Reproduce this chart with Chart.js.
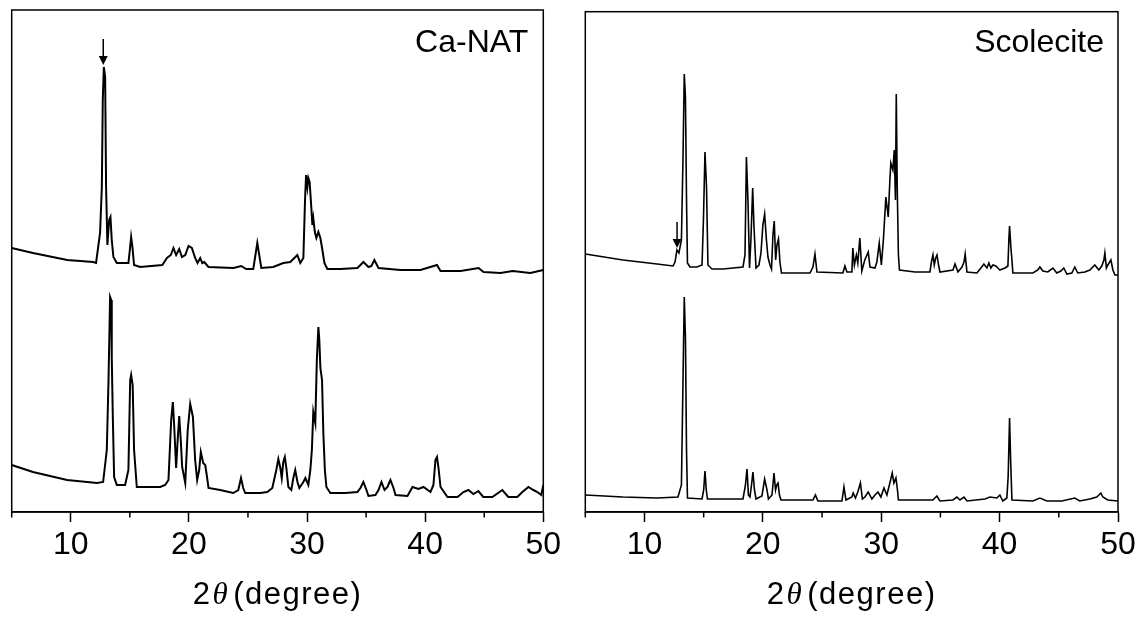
<!DOCTYPE html>
<html>
<head>
<meta charset="utf-8">
<script src="https://cdn.jsdelivr.net/npm/chart.js@4.4.0/dist/chart.umd.min.js"></script>
<style>
  html, body { margin: 0; padding: 0; background: #fff; }
  #wrap { position: relative; width: 1140px; height: 622px; }
  .panel { position: absolute; top: 0; width: 570px; height: 622px; }
</style>
</head>
<body>
<div id="wrap">
  <div class="panel" style="left:0"><canvas id="leftChart"></canvas></div>
  <div class="panel" style="left:570px"><canvas id="rightChart"></canvas></div>
</div>
<script>
// Tick values and text
const majorTicks = [10, 20, 30, 40, 50];
const minorTicks = [5, 15, 25, 35, 45];
const xTitleParts = ['2', 'θ', '(degree)'];   // theta is set in italic
const panelLabels = ['Ca-NAT', 'Scolecite'];

// Arrows marking the extra reflection (2theta, start intensity, tip intensity)
const arrowCaNat = [12.75, 473, 447];
const arrowScolecite = [12.75, 290, 264];

// Ca-NAT, upper pattern (2theta, intensity a.u.)
const caNatUpper = [
  [5.0,264],[6.8,259],[9.7,252],[11.9,250],[12.14,249],[12.48,279],[12.63,325],[12.71,412],
  [12.8,445],[12.91,435],[12.99,325],[13.1,267],[13.25,292],[13.36,295],[13.47,272],[13.61,255],
  [13.9,249],[14.88,249],[15.0,262],[15.11,275],[15.22,265],[15.36,247],[15.87,245],[17.75,247],
  [18.14,254],[18.47,257],[18.69,264],[18.92,257],[19.18,263],[19.41,255],[19.69,257],[19.97,266],
  [20.25,264],[20.53,254],[20.73,249],[20.96,254],[21.13,249],[21.3,250],[21.66,245],[23.77,244],
  [24.43,246],[24.85,243],[25.45,243],[25.79,269],[26.13,244],[27.14,245],[27.99,249],[28.58,250],
  [29.18,257],[29.43,249],[29.69,254],[29.83,312],[29.92,337],[30.03,325],[30.11,334],[30.22,330],
  [30.36,305],[30.45,287],[30.53,294],[30.66,280],[30.79,274],[30.96,280],[31.13,274],[31.3,262],
  [31.47,249],[31.72,243],[32.82,243],[34.26,244],[34.52,247],[34.77,250],[35.2,245],[35.45,246],
  [35.7,252],[36.05,244],[37.9,242],[39.6,242],[41.0,247],[41.3,241],[43.0,241],[44.52,244],
  [44.94,240],[46.38,239],[47.4,241],[48.9,239],[50.0,242]
];

// Ca-NAT, lower pattern
const caNatLower = [
  [5.0,47],[6.8,40],[9.69,32],[12.23,29],[12.74,30],[13.05,62],[13.19,129],[13.33,215],
  [13.42,212],[13.47,155],[13.56,95],[13.67,35],[13.9,27],[14.6,27],[14.88,42],[15.03,132],
  [15.11,137],[15.24,127],[15.36,62],[15.59,25],[17.57,25],[17.99,27],[18.27,32],[18.5,92],
  [18.64,110],[18.75,87],[18.92,44],[19.05,72],[19.18,96],[19.31,72],[19.43,45],[19.69,29],
  [19.9,82],[20.11,108],[20.34,95],[20.53,52],[20.7,32],[20.87,42],[21.01,60],[21.21,49],
  [21.38,47],[21.51,37],[21.66,24],[22.65,22],[23.75,19],[24.18,22],[24.41,34],[24.6,24],
  [24.77,19],[26.04,19],[26.64,20],[27.06,24],[27.4,42],[27.57,53],[27.74,44],[27.86,34],
  [27.99,50],[28.12,55],[28.25,44],[28.42,25],[28.67,22],[28.84,34],[29.0,42],[29.19,30],
  [29.35,24],[29.69,30],[29.86,34],[30.11,27],[30.28,42],[30.41,62],[30.53,100],[30.7,89],
  [30.83,152],[30.96,185],[31.04,172],[31.13,144],[31.27,132],[31.38,79],[31.51,42],[31.64,25],
  [31.97,19],[33.25,19],[34.26,20],[34.52,24],[34.77,30],[35.03,22],[35.2,16],[35.79,17],
  [36.05,22],[36.3,30],[36.56,22],[36.81,25],[37.06,32],[37.32,24],[37.49,17],[38.5,16],
  [38.93,25],[39.43,23],[39.86,25],[40.45,20],[40.7,27],[40.87,52],[41.0,55],[41.13,44],
  [41.3,25],[41.89,15],[42.74,15],[43.24,20],[43.66,22],[44.08,18],[44.5,21],[44.92,15],
  [45.69,15],[46.53,22],[47.04,15],[47.8,15],[48.23,20],[48.74,25],[49.16,22],[49.5,20],
  [49.83,17],[50.0,27]
];

// Scolecite, upper pattern
const scolUpper = [
  [5.0,258],[8.18,252],[11.06,248],[12.41,246],[12.58,250],[12.74,262],[12.91,259],[13.12,272],
  [13.25,352],[13.36,438],[13.46,415],[13.55,312],[13.63,249],[13.84,245],[14.43,245],[14.86,247],
  [14.98,292],[15.11,360],[15.24,325],[15.36,247],[15.7,243],[16.63,243],[18.32,245],[18.49,257],
  [18.61,355],[18.74,312],[18.87,244],[18.99,272],[19.14,324],[19.25,285],[19.42,244],[19.67,247],
  [19.84,259],[20.0,287],[20.15,298],[20.3,272],[20.43,255],[20.6,247],[20.73,243],[20.85,277],
  [20.96,291],[21.08,252],[21.19,267],[21.32,273],[21.44,250],[21.57,239],[23.98,239],[24.23,245],
  [24.4,258],[24.57,240],[26.76,239],[26.93,246],[27.1,240],[27.52,240],[27.6,264],[27.73,247],
  [27.9,257],[28.02,249],[28.19,274],[28.36,241],[28.61,252],[28.9,260],[29.05,245],[29.47,244],
  [29.63,250],[29.83,269],[30.01,247],[30.18,272],[30.39,315],[30.59,295],[30.73,332],[30.81,349],
  [30.98,342],[31.1,362],[31.2,312],[31.27,418],[31.35,325],[31.45,257],[31.54,242],[32.85,240],
  [34.11,240],[34.24,250],[34.37,257],[34.48,247],[34.6,254],[34.71,257],[34.84,247],[34.96,240],
  [36.06,242],[36.23,248],[36.48,240],[36.82,245],[36.99,250],[37.09,258],[37.24,240],[38.08,239],
  [38.42,244],[38.67,248],[38.93,244],[39.09,249],[39.26,244],[39.43,247],[39.68,246],[40.02,242],
  [40.45,244],[40.7,246],[40.78,272],[40.84,286],[40.95,265],[41.04,252],[41.12,239],[42.81,239],
  [43.23,242],[43.4,245],[43.65,241],[44.07,240],[44.5,244],[44.83,239],[45.17,241],[45.42,244],
  [45.68,238],[46.1,239],[46.35,245],[46.6,239],[47.2,240],[47.62,242],[48.04,247],[48.38,242],
  [48.63,246],[48.81,252],[48.89,259],[49.02,244],[49.14,247],[49.4,252],[49.57,242],[49.74,237],
  [50.0,237]
];

// Scolecite, lower pattern
const scolLower = [
  [5.0,17],[8.18,15],[11.06,14],[12.83,15],[13.12,27],[13.25,129],[13.36,215],[13.46,175],
  [13.55,62],[13.63,14],[14.86,13],[15.0,22],[15.11,41],[15.22,22],[15.32,13],[18.32,13],
  [18.53,27],[18.66,43],[18.78,17],[18.91,15],[19.04,27],[19.16,40],[19.29,22],[19.42,13],
  [19.92,16],[20.15,33],[20.35,22],[20.47,13],[20.77,17],[20.94,39],[21.07,22],[21.17,27],
  [21.28,29],[21.4,17],[21.53,12],[24.23,12],[24.44,17],[24.65,11],[26.68,11],[26.85,25],
  [27.02,12],[27.52,15],[27.63,19],[27.82,14],[28.02,20],[28.24,29],[28.41,13],[28.62,15],
  [28.9,20],[29.21,13],[29.47,17],[29.72,20],[29.97,15],[30.23,24],[30.48,17],[30.73,29],
  [30.93,39],[31.07,29],[31.24,34],[31.37,22],[31.45,12],[34.36,12],[34.7,16],[34.96,11],
  [36.06,12],[36.39,15],[36.65,12],[36.99,15],[37.24,11],[38.76,13],[39.18,15],[39.77,14],
  [40.02,17],[40.27,11],[40.61,14],[40.72,35],[40.84,94],[40.93,52],[41.04,12],[42.81,11],
  [43.4,14],[43.99,11],[45.25,11],[46.35,14],[46.77,11],[47.62,13],[48.21,15],[48.55,19],
  [48.72,15],[49.14,12],[50.0,11]
];

const FONT = '"Liberation Sans", Arial, Helvetica, sans-serif';
const SERIF = '"Liberation Serif", "Times New Roman", serif';

// frame around the plot area, short minor ticks, arrow, sample label and axis title
const framePlugin = {
  id: 'frame',
  afterDraw(chart, args, opts) {
    const { ctx, chartArea: a, scales: { x, y } } = chart;
    ctx.save();
    ctx.strokeStyle = '#000';
    ctx.fillStyle = '#000';
    ctx.lineWidth = 1.5;
    ctx.strokeRect(a.left, a.top, a.right - a.left, a.bottom - a.top);

    minorTicks.forEach(v => {
      const px = x.getPixelForValue(v);
      ctx.beginPath();
      ctx.moveTo(px, a.bottom);
      ctx.lineTo(px, a.bottom + 5.5);
      ctx.stroke();
    });

    const ax = x.getPixelForValue(opts.arrow[0]);
    const y0 = y.getPixelForValue(opts.arrow[1]);
    const y1 = y.getPixelForValue(opts.arrow[2]);
    ctx.beginPath();
    ctx.moveTo(ax, y0);
    ctx.lineTo(ax, y1 - 7);
    ctx.stroke();
    ctx.beginPath();
    ctx.moveTo(ax - 4.5, y1 - 9);
    ctx.lineTo(ax + 4.5, y1 - 9);
    ctx.lineTo(ax, y1);
    ctx.closePath();
    ctx.fill();

    ctx.font = '32px ' + FONT;
    ctx.textAlign = 'right';
    ctx.textBaseline = 'alphabetic';
    ctx.fillText(opts.label, a.right - opts.labelDx, opts.labelY);

    // x-axis title: "2" + italic theta + "(degree)"
    const fonts = ['31px ' + FONT, 'italic 31px ' + SERIF, '31px ' + FONT];
    const gaps = [1, 4, 0];
    ctx.textAlign = 'left';
    if ('letterSpacing' in ctx) ctx.letterSpacing = '1.5px';
    let total = 0;
    const widths = xTitleParts.map((t, i) => {
      ctx.font = fonts[i];
      const w = ctx.measureText(t).width;
      total += w + gaps[i];
      return w;
    });
    let tx = (a.left + a.right) / 2 - total / 2;
    xTitleParts.forEach((t, i) => {
      ctx.font = fonts[i];
      ctx.fillText(t, tx, 604);
      tx += widths[i] + gaps[i];
    });
    ctx.restore();
  }
};

function makeChart(canvasId, upper, lower, cfg) {
  const toXY = arr => arr.map(p => ({ x: p[0], y: p[1] }));
  return new Chart(document.getElementById(canvasId), {
    type: 'line',
    data: {
      datasets: [
        { data: toXY(upper), borderColor: '#000', borderWidth: cfg.lineWidth, pointRadius: 0, tension: 0, fill: false },
        { data: toXY(lower), borderColor: '#000', borderWidth: cfg.lineWidth, pointRadius: 0, tension: 0, fill: false }
      ]
    },
    options: {
      responsive: true,
      maintainAspectRatio: false,
      animation: false,
      devicePixelRatio: 1,
      layout: { padding: cfg.padding },
      plugins: {
        legend: { display: false },
        tooltip: { enabled: false },
        frame: { arrow: cfg.arrow, label: cfg.label, labelDx: cfg.labelDx, labelY: cfg.labelY }
      },
      scales: {
        x: {
          type: 'linear',
          min: 5,
          max: 50,
          afterBuildTicks: scale => {
            scale.ticks = minorTicks.concat(majorTicks).sort((a, b) => a - b).map(v => ({ value: v }));
          },
          afterFit: scale => { scale.height = 104; },
          ticks: {
            autoSkip: false,
            maxRotation: 0,
            padding: 4,
            color: '#000',
            font: { family: FONT, size: 32 },
            callback: v => majorTicks.includes(v) ? String(v) : ''
          },
          grid: {
            drawOnChartArea: false,
            drawTicks: true,
            tickLength: 10,
            tickWidth: 1.5,
            tickColor: c => (c.tick && majorTicks.includes(c.tick.value)) ? '#000' : 'rgba(0,0,0,0)'
          },
          border: { display: true, color: '#000', width: 1.5 },
          title: { display: false }
        },
        y: { display: false, min: 0, max: cfg.yMax }
      }
    },
    plugins: [framePlugin]
  });
}

makeChart('leftChart', caNatUpper, caNatLower, {
  lineWidth: 2,
  padding: { left: 11.7, right: 26.7, top: 10, bottom: 6 },
  yMax: 502,
  arrow: arrowCaNat,
  label: panelLabels[0],
  labelDx: 15,
  labelY: 52
});

makeChart('rightChart', scolUpper, scolLower, {
  lineWidth: 1.6,
  padding: { left: 15.3, right: 22, top: 11.7, bottom: 6 },
  yMax: 500.3,
  arrow: arrowScolecite,
  label: panelLabels[1],
  labelDx: 14,
  labelY: 52
});
</script>
</body>
</html>
